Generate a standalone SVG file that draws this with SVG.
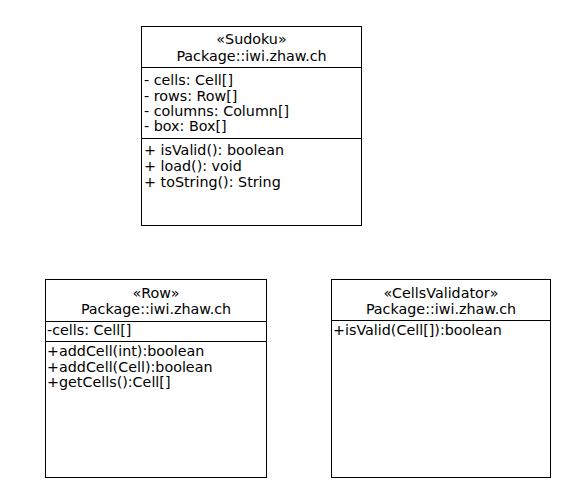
<svg xmlns="http://www.w3.org/2000/svg" width="566" height="482" viewBox="0 0 566 482">
<style>
.box{fill:#fff;stroke:#000;stroke-width:1}
.div{stroke:#000;stroke-width:1}
text{font-family:"DejaVu Sans","Liberation Sans",sans-serif;font-size:14.3px;fill:#000}
.c{text-anchor:middle}
</style>
<rect width="566" height="482" fill="#fff"/>
<g id="sudoku">
<rect class="box" x="141.5" y="26.5" width="220" height="199"/>
<line class="div" x1="141.5" y1="67.5" x2="361.5" y2="67.5"/>
<line class="div" x1="141.5" y1="138.5" x2="361.5" y2="138.5"/>
<text class="c" x="251.5" y="44">«Sudoku»</text>
<text class="c" x="251.5" y="60.5">Package::iwi.zhaw.ch</text>
<text x="144" y="85">- cells: Cell[]</text>
<text x="144" y="100.5">- rows: Row[]</text>
<text x="144" y="115.5">- columns: Column[]</text>
<text x="144" y="131">- box: Box[]</text>
<text x="144" y="154.5">+ isValid(): boolean</text>
<text x="144" y="170.5">+ load(): void</text>
<text x="144" y="186.5">+ toString(): String</text>
</g>
<g id="row">
<rect class="box" x="45.5" y="279.5" width="221" height="198"/>
<line class="div" x1="45.5" y1="321.5" x2="266.5" y2="321.5"/>
<line class="div" x1="45.5" y1="341.5" x2="266.5" y2="341.5"/>
<text class="c" x="156" y="298">«Row»</text>
<text class="c" x="156" y="313.5">Package::iwi.zhaw.ch</text>
<text x="47" y="335">-cells: Cell[]</text>
<text x="47" y="356">+addCell(int):boolean</text>
<text x="47" y="371.5">+addCell(Cell):boolean</text>
<text x="47" y="387">+getCells():Cell[]</text>
</g>
<g id="cellsvalidator">
<rect class="box" x="331.5" y="279.5" width="219" height="198"/>
<line class="div" x1="331.5" y1="320.5" x2="550.5" y2="320.5"/>
<text class="c" x="441" y="298">«CellsValidator»</text>
<text class="c" x="441" y="313.5">Package::iwi.zhaw.ch</text>
<text x="333" y="335">+isValid(Cell[]):boolean</text>
</g>
<g id="connectors"/>
</svg>
